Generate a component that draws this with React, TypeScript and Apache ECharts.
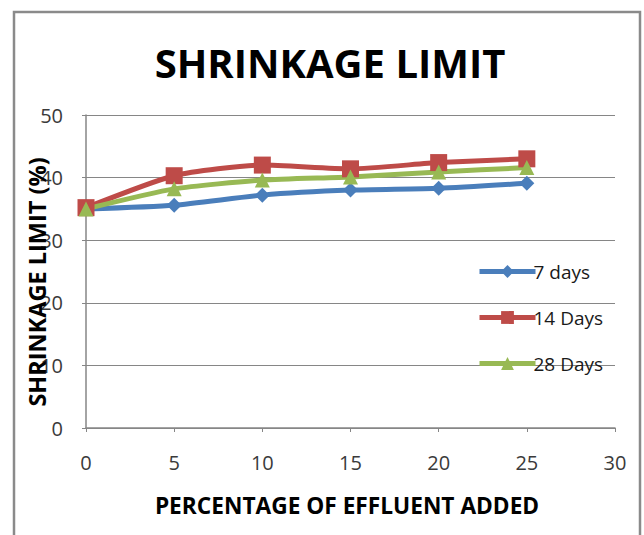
import React, { useEffect, useRef } from "react";
import * as echarts from "echarts";

const xValues = [0, 5, 10, 15, 20, 25];
const days7 = [35.0, 35.6, 37.2, 38.0, 38.3, 39.1];
const days14 = [35.2, 40.3, 42.0, 41.4, 42.4, 43.0];
const days28 = [35.0, 38.2, 39.6, 40.1, 40.9, 41.6];
const seriesNames = ["7 days", "14 Days", "28 Days"];
const titleText = "SHRINKAGE LIMIT";
const xTitle = "PERCENTAGE OF EFFLUENT ADDED";
const yTitle = "SHRINKAGE LIMIT (%)";

const pairs = (ys: number[]) => xValues.map((x, i) => [x, ys[i]]);

export default function App() {
  const ref = useRef<HTMLDivElement>(null);
  useEffect(() => {
    if (!ref.current) return;
    const chart = echarts.init(ref.current, undefined, { renderer: "svg" });
    const font = "'Open Sans', 'Noto Sans', sans-serif";
    const mk = (name: string, data: number[], color: string, symbol: string, size: number) => ({
      name,
      type: "line",
      data: pairs(data),
      smooth: 0.2,
      symbol,
      symbolSize: size,
      showSymbol: true,
      lineStyle: { color, width: 5 },
      itemStyle: { color },
      z: 3,
    });
    chart.setOption({
      animation: false,
      backgroundColor: "#ffffff",
      grid: { left: 86, right: 29, top: 115, bottom: 107 },
      xAxis: {
        type: "value",
        min: 0,
        max: 30,
        interval: 5,
        axisLine: { show: true, lineStyle: { color: "#868686", width: 1.5 } },
        axisTick: { show: true, length: 4, lineStyle: { color: "#868686" } },
        splitLine: { show: false },
        axisLabel: { color: "#3a3a3a", fontSize: 20, fontFamily: font, margin: 24 },
      },
      yAxis: {
        type: "value",
        min: 0,
        max: 50,
        interval: 10,
        axisLine: { show: true, lineStyle: { color: "#868686", width: 1.5 } },
        axisTick: { show: true, length: 4, lineStyle: { color: "#868686" } },
        splitLine: { show: true, lineStyle: { color: "#868686", width: 1.2 } },
        axisLabel: { color: "#3a3a3a", fontSize: 20, fontFamily: font, margin: 23 },
      },
      legend: {
        orient: "vertical",
        left: 472,
        top: 257,
        itemWidth: 56,
        itemHeight: 16,
        itemGap: 27,
        lineStyle: { width: 5 },
        textStyle: { color: "#1a1a1a", fontSize: 19, fontFamily: font, padding: [0, 0, 0, -7] },
        data: seriesNames,
      },
      graphic: [
        {
          type: "rect",
          shape: { x: 14, y: 12, width: 626, height: 600 },
          style: { fill: "none", stroke: "#8a8a8a", lineWidth: 2.5 },
          z: 0,
        },
        {
          type: "text",
          x: 330,
          y: 62,
          style: {
            text: titleText,
            fontSize: 40,
            fontWeight: "bold",
            fontFamily: font,
            fill: "#000",
            textAlign: "center",
            textVerticalAlign: "middle",
          },
        },
        {
          type: "text",
          x: 347,
          y: 505,
          style: {
            text: xTitle,
            fontSize: 22.7,
            fontWeight: "bold",
            fontFamily: font,
            fill: "#000",
            textAlign: "center",
            textVerticalAlign: "middle",
          },
        },
        {
          type: "text",
          x: 37,
          y: 282,
          rotation: Math.PI / 2,
          style: {
            text: yTitle,
            fontSize: 23.5,
            fontWeight: "bold",
            fontFamily: font,
            fill: "#000",
            textAlign: "center",
            textVerticalAlign: "middle",
          },
          z: 10,
        },
      ],
      series: [
        mk(seriesNames[0], days7, "#4A7EBB", "diamond", 15),
        mk(seriesNames[1], days14, "#BE4B48", "rect", 17),
        mk(seriesNames[2], days28, "#98B954", "triangle", 15),
      ],
    });
    return () => chart.dispose();
  }, []);
  return (
    <div
      ref={ref}
      style={{ position: "fixed", left: 0, top: 0, width: 644, height: 535 }}
    />
  );
}
